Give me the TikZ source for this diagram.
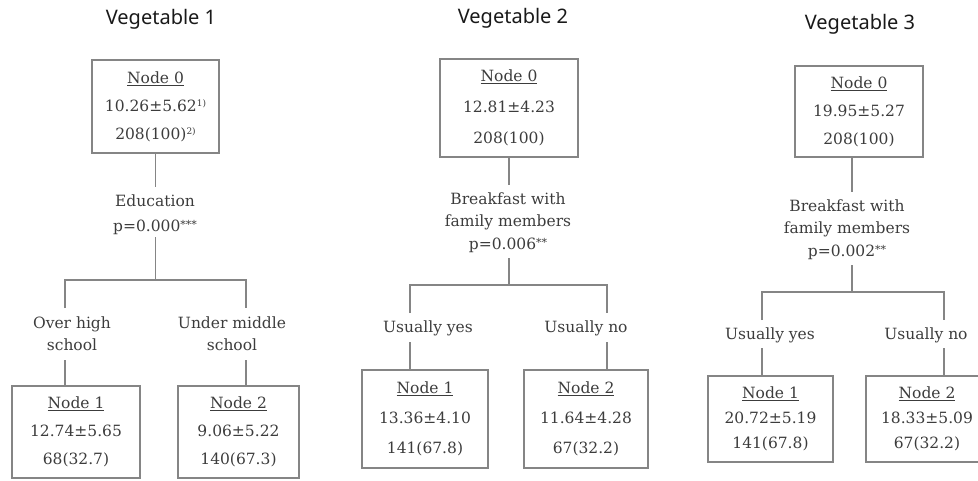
\documentclass[tikz,border=0pt]{standalone}
\usepackage{fontspec}
\setmainfont{DejaVu Serif}
\newfontfamily\titlefont{Noto Sans}
\definecolor{txt}{HTML}{3C3C3C}
\definecolor{ln}{HTML}{858585}
\newcommand\supnote[1]{\raisebox{5pt}{\fontsize{9}{9}\selectfont #1}}
\newcommand\stars[1]{\raisebox{2.5pt}{\fontsize{11}{11}\selectfont #1}}
\begin{document}
\begin{tikzpicture}[x=1pt,y=-1pt,
  conn/.style={draw=ln, line width=1.1pt},
  box/.style={draw=ln, line width=1.1pt, inner sep=0pt, align=center, text=txt},
  lab/.style={inner sep=0pt, align=center, text=txt},
  ttl/.style={text=black!90, anchor=base, inner sep=0pt, font=\titlefont\fontsize{20}{24}\selectfont}]
\useasboundingbox (0,0) rectangle (978,480);
\clip (0,0) rectangle (978,480);

% ---------------- Vegetable 1 ----------------
\node[ttl] (t1) at (161,24) {Vegetable 1};
\node[box, minimum width=127pt, minimum height=93pt, font=\fontsize{15.5}{28}\selectfont] (v1n0) at (155.5,106.5)
  {\underline{Node 0}\\10.26±5.62\supnote{1)}\\208(100)\supnote{2)}};
\node[lab, font=\fontsize{15.5}{25}\selectfont] (v1c) at (155,214.5) {Education\\p=0.000\stars{***}};
\node[lab, font=\fontsize{15.5}{22}\selectfont] (v1bl) at (72,334) {Over high\\school};
\node[lab, font=\fontsize{15.5}{22}\selectfont] (v1br) at (232,334) {Under middle\\school};
\node[box, minimum width=128pt, minimum height=92pt, font=\fontsize{15.5}{28}\selectfont] (v1n1) at (76,432)
  {\underline{Node 1}\\12.74±5.65\\68(32.7)};
\node[box, minimum width=121pt, minimum height=92pt, font=\fontsize{15.5}{28}\selectfont] (v1n2) at (238.5,432)
  {\underline{Node 2}\\9.06±5.22\\140(67.3)};
\coordinate (v1a) at (155.5,187);
\coordinate (v1b) at (155.5,237);
\coordinate (v1j) at (155.5,280);
\coordinate (v1l) at (65,280);
\coordinate (v1r) at (246,280);
\coordinate (v1l2) at (65,308);
\coordinate (v1r2) at (246,308);
\coordinate (v1l3) at (65,360);
\coordinate (v1r3) at (246,360);
\draw[conn] (v1a |- v1n0.south) -- (v1a);
\draw[conn] (v1b) -- (v1j);
\draw[conn] (v1l2) -- (v1l) -- (v1r) -- (v1r2);
\draw[conn] (v1l3) -- (v1l3 |- v1n1.north);
\draw[conn] (v1r3) -- (v1r3 |- v1n2.north);

% ---------------- Vegetable 2 ----------------
\node[ttl] (t2) at (513,23) {Vegetable 2};
\node[box, minimum width=138pt, minimum height=98pt, font=\fontsize{15.5}{31}\selectfont] (v2n0) at (509,108)
  {\underline{Node 0}\\12.81±4.23\\208(100)};
\node[lab, font=\fontsize{15.5}{22.5}\selectfont] (v2c) at (508,222.5) {Breakfast with\\family members\\p=0.006\stars{**}};
\node[lab, font=\fontsize{15.5}{22}\selectfont] (v2bl) at (428,328) {Usually yes};
\node[lab, font=\fontsize{15.5}{22}\selectfont] (v2br) at (586,328) {Usually no};
\node[box, minimum width=126pt, minimum height=98pt, font=\fontsize{15.5}{30}\selectfont] (v2n1) at (425,419)
  {\underline{Node 1}\\13.36±4.10\\141(67.8)};
\node[box, minimum width=124pt, minimum height=98pt, font=\fontsize{15.5}{30}\selectfont] (v2n2) at (586,419)
  {\underline{Node 2}\\11.64±4.28\\67(32.2)};
\coordinate (v2a) at (509,185);
\coordinate (v2b) at (509,258);
\coordinate (v2j) at (509,285);
\coordinate (v2l) at (410,285);
\coordinate (v2r) at (607,285);
\coordinate (v2l2) at (410,313);
\coordinate (v2r2) at (607,313);
\coordinate (v2l3) at (410,342);
\coordinate (v2r3) at (607,342);
\draw[conn] (v2a |- v2n0.south) -- (v2a);
\draw[conn] (v2b) -- (v2j);
\draw[conn] (v2l2) -- (v2l) -- (v2r) -- (v2r2);
\draw[conn] (v2l3) -- (v2l3 |- v2n1.north);
\draw[conn] (v2r3) -- (v2r3 |- v2n2.north);

% ---------------- Vegetable 3 ----------------
\node[ttl] (t3) at (860,29) {Vegetable 3};
\node[box, minimum width=128pt, minimum height=91pt, font=\fontsize{15.5}{28}\selectfont] (v3n0) at (859,111.5)
  {\underline{Node 0}\\19.95±5.27\\208(100)};
\node[lab, font=\fontsize{15.5}{22.5}\selectfont] (v3c) at (847,229.5) {Breakfast with\\family members\\p=0.002\stars{**}};
\node[lab, font=\fontsize{15.5}{22}\selectfont] (v3bl) at (770,335) {Usually yes};
\node[lab, font=\fontsize{15.5}{22}\selectfont] (v3br) at (926,335) {Usually no};
\node[box, minimum width=125pt, minimum height=86pt, font=\fontsize{15.5}{25}\selectfont] (v3n1) at (770.5,419)
  {\underline{Node 1}\\20.72±5.19\\141(67.8)};
\node[box, minimum width=122pt, minimum height=86pt, font=\fontsize{15.5}{25}\selectfont] (v3n2) at (927,419)
  {\underline{Node 2}\\18.33±5.09\\67(32.2)};
\coordinate (v3a) at (852,192);
\coordinate (v3b) at (852,265);
\coordinate (v3j) at (852,292);
\coordinate (v3l) at (762,292);
\coordinate (v3r) at (944,292);
\coordinate (v3l2) at (762,320);
\coordinate (v3r2) at (944,320);
\coordinate (v3l3) at (762,348);
\coordinate (v3r3) at (944,348);
\draw[conn] (v3a |- v3n0.south) -- (v3a);
\draw[conn] (v3b) -- (v3j);
\draw[conn] (v3l2) -- (v3l) -- (v3r) -- (v3r2);
\draw[conn] (v3l3) -- (v3l3 |- v3n1.north);
\draw[conn] (v3r3) -- (v3r3 |- v3n2.north);
\end{tikzpicture}
\end{document}
